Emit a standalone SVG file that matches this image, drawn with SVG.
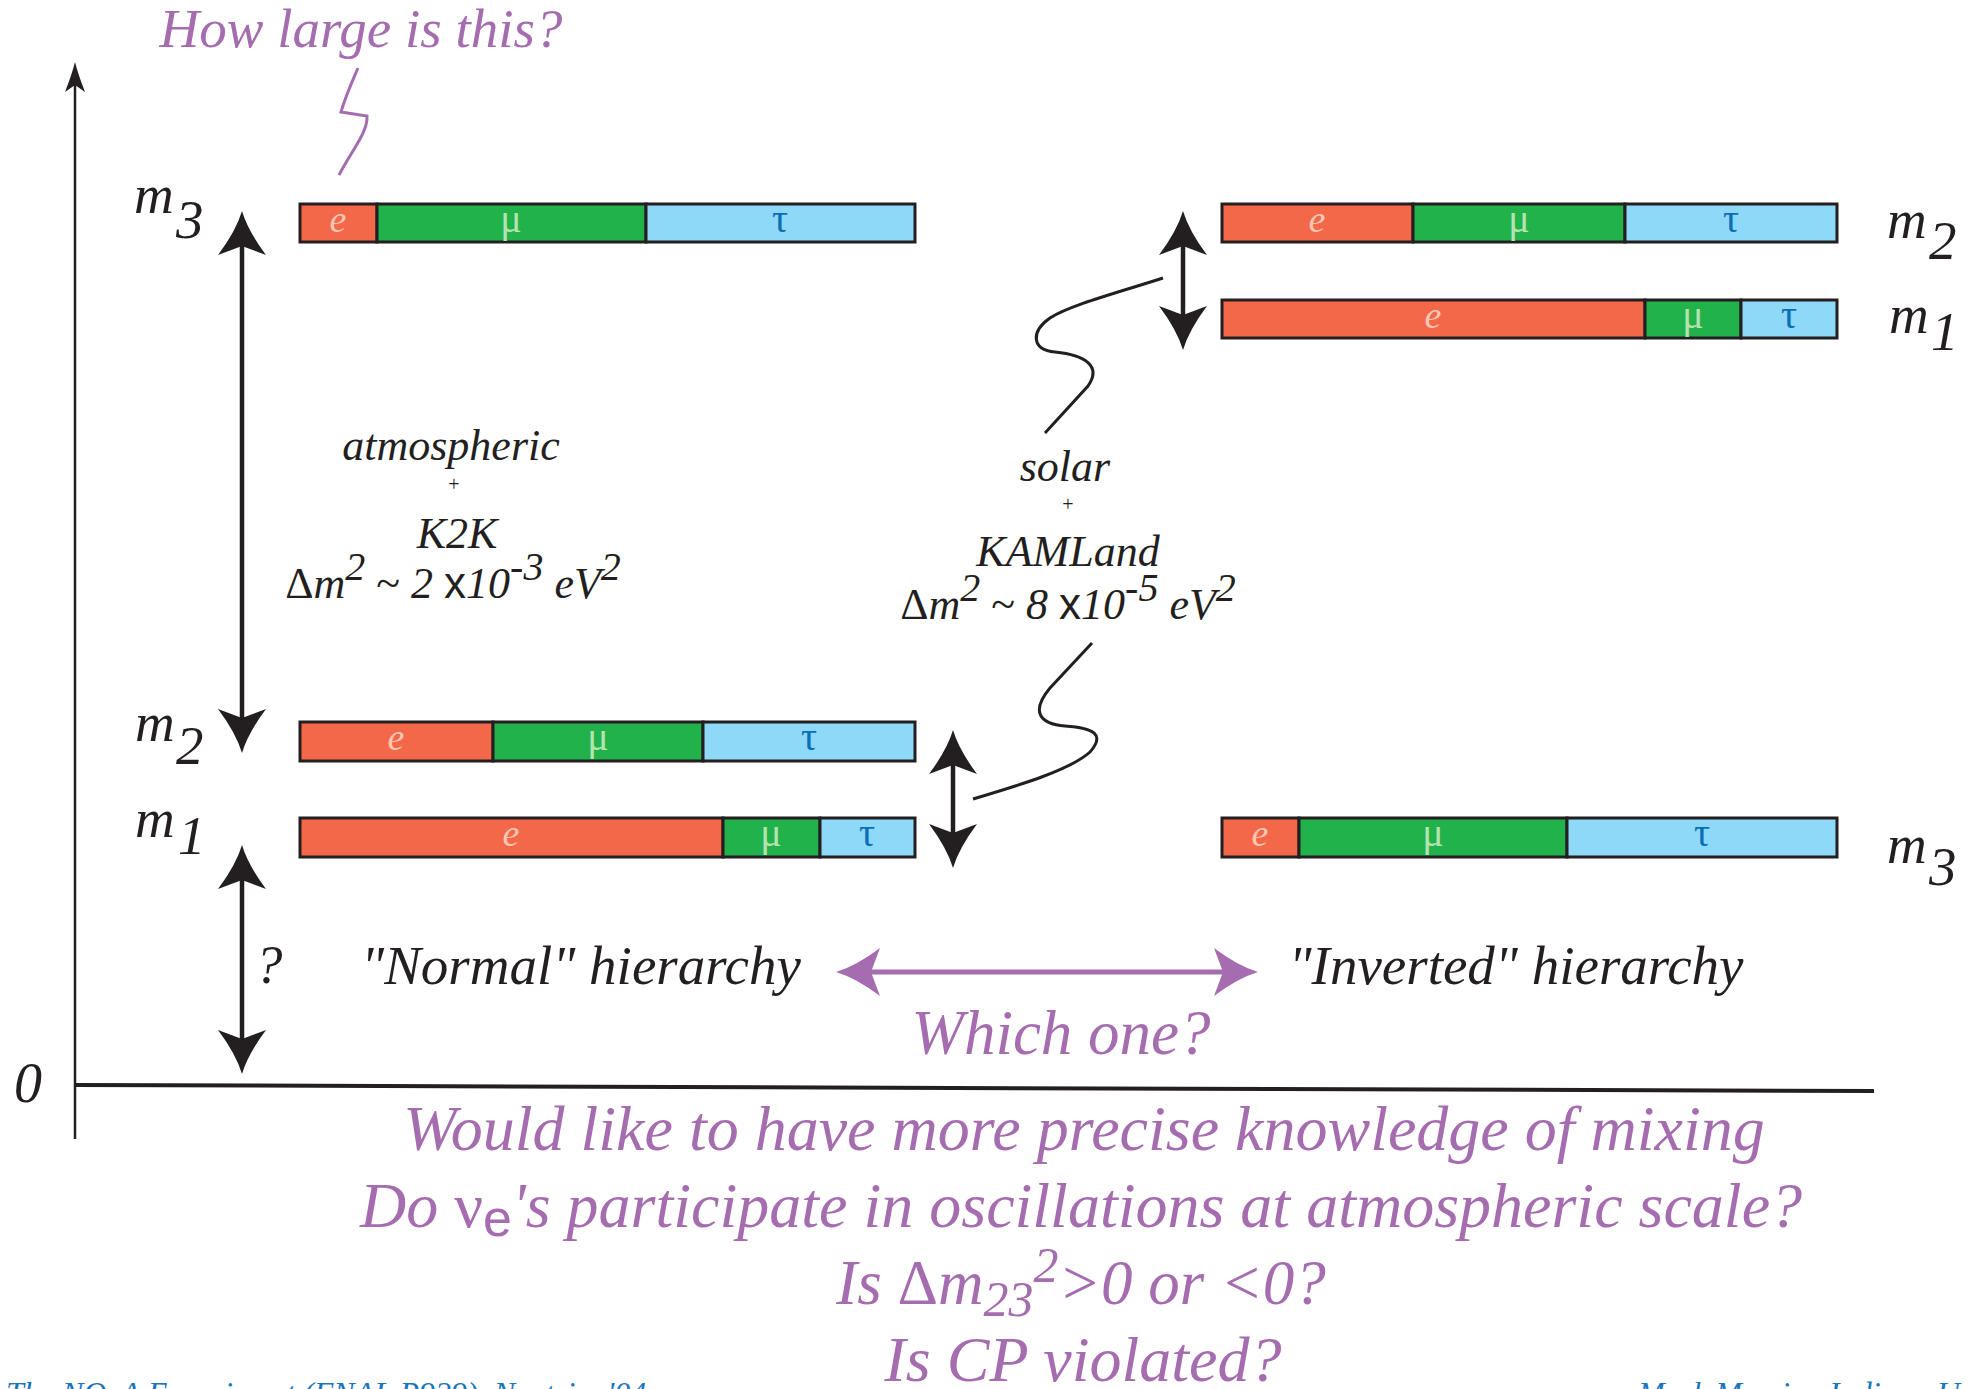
<svg xmlns="http://www.w3.org/2000/svg" width="1971" height="1389" viewBox="0 0 1971 1389">
<style>
.t{font-family:"Liberation Serif","Times New Roman",serif;font-style:italic;fill:#231f20}
.p{fill:#a56db0}
.u{font-style:normal}
.sx{font-family:"Liberation Sans",Arial,sans-serif;font-style:normal}
.lbl{font-family:"Liberation Serif",serif;font-style:italic;font-size:38px;text-anchor:middle}
.g{font-style:normal;font-size:40px}
.le{fill:#f9c6b3}.lm{fill:#b5e2ae}.lt{fill:#0b6fb8}
.se{fill:#f26849}.sm{fill:#22b24c}.st{fill:#8ed8f8}
.seg{stroke:#231f20;stroke-width:3}
.arr{stroke:#231f20;stroke-width:4.5;fill:none;marker-start:url(#ah);marker-end:url(#ah)}
.parr{stroke:#a56db0;stroke-width:5;fill:none;marker-start:url(#ahp);marker-end:url(#ahp)}
.squig{fill:none;stroke:#231f20;stroke-width:3}
.foot{font-family:"Liberation Serif",serif;font-style:italic;font-size:32px;fill:#1a75bc}
</style>
<defs>
<marker id="ah" markerUnits="userSpaceOnUse" viewBox="-46 -26 50 52" markerWidth="50" markerHeight="52" refX="-34" refY="0" orient="auto-start-reverse">
<path d="M0,0 Q-20,-6 -44,-24 L-35,0 L-44,24 Q-20,6 0,0 Z" fill="#231f20"/>
</marker>
<marker id="ahp" markerUnits="userSpaceOnUse" viewBox="-46 -26 50 52" markerWidth="50" markerHeight="52" refX="-34" refY="0" orient="auto-start-reverse">
<path d="M0,0 Q-20,-6 -44,-24 L-35,0 L-44,24 Q-20,6 0,0 Z" fill="#a56db0"/>
</marker>
<marker id="ahs" markerUnits="userSpaceOnUse" viewBox="-32 -12 34 24" markerWidth="34" markerHeight="24" refX="-22" refY="0" orient="auto">
<path d="M0,0 Q-12,-3 -30,-10 L-23,0 L-30,10 Q-12,3 0,0 Z" fill="#231f20"/>
</marker>
</defs>

<g id="axes">
<line x1="75" y1="1139" x2="75" y2="84" stroke="#231f20" stroke-width="2.5" marker-end="url(#ahs)"/>
<line x1="75" y1="1085" x2="1874" y2="1091" stroke="#231f20" stroke-width="4"/>
<text class="t" x="14" y="1102" font-size="56">0</text>
</g>

<g id="title-how-large">
<text class="t p" x="361" y="47" font-size="55" text-anchor="middle">How large is this?</text>
<path d="M339,175 C352,150 368,132 367,116 L341,112 C346,95 352,82 358,68" fill="none" stroke="#a56db0" stroke-width="3"/>
</g>

<g id="normal-m3">
<rect class="se seg" x="300" y="204" width="77" height="38"/>
<rect class="sm seg" x="377" y="204" width="269" height="38"/>
<rect class="st seg" x="646" y="204" width="269" height="38"/>
<text class="lbl le" x="338" y="232">e</text>
<text class="lbl lm g" x="511" y="232">μ</text>
<text class="lbl lt g" x="780" y="232">τ</text>
<text class="t" font-size="55" x="134" y="213">m<tspan x="176" y="238">3</tspan></text>
</g>

<g id="normal-m2">
<rect class="se seg" x="300" y="722" width="193" height="39"/>
<rect class="sm seg" x="493" y="722" width="210" height="39"/>
<rect class="st seg" x="703" y="722" width="212" height="39"/>
<text class="lbl le" x="396" y="750">e</text>
<text class="lbl lm g" x="598" y="750">μ</text>
<text class="lbl lt g" x="809" y="750">τ</text>
<text class="t" font-size="55" x="135" y="741">m<tspan x="176" y="764">2</tspan></text>
</g>

<g id="normal-m1">
<rect class="se seg" x="300" y="818" width="423" height="39"/>
<rect class="sm seg" x="723" y="818" width="97" height="39"/>
<rect class="st seg" x="820" y="818" width="95" height="39"/>
<text class="lbl le" x="511" y="846">e</text>
<text class="lbl lm g" x="771" y="846">μ</text>
<text class="lbl lt g" x="867" y="846">τ</text>
<text class="t" font-size="55" x="135" y="837">m<tspan x="178" y="854">1</tspan></text>
</g>

<g id="inverted-m2">
<rect class="se seg" x="1222" y="204" width="191" height="38"/>
<rect class="sm seg" x="1413" y="204" width="212" height="38"/>
<rect class="st seg" x="1625" y="204" width="212" height="38"/>
<text class="lbl le" x="1317" y="232">e</text>
<text class="lbl lm g" x="1519" y="232">μ</text>
<text class="lbl lt g" x="1731" y="232">τ</text>
<text class="t" font-size="55" x="1887" y="238">m<tspan x="1929" y="259">2</tspan></text>
</g>

<g id="inverted-m1">
<rect class="se seg" x="1222" y="300" width="423" height="38"/>
<rect class="sm seg" x="1645" y="300" width="96" height="38"/>
<rect class="st seg" x="1741" y="300" width="96" height="38"/>
<text class="lbl le" x="1433" y="328">e</text>
<text class="lbl lm g" x="1693" y="328">μ</text>
<text class="lbl lt g" x="1789" y="328">τ</text>
<text class="t" font-size="55" x="1889" y="333">m<tspan x="1931" y="350">1</tspan></text>
</g>

<g id="inverted-m3">
<rect class="se seg" x="1222" y="818" width="77" height="39"/>
<rect class="sm seg" x="1299" y="818" width="268" height="39"/>
<rect class="st seg" x="1567" y="818" width="270" height="39"/>
<text class="lbl le" x="1260" y="846">e</text>
<text class="lbl lm g" x="1433" y="846">μ</text>
<text class="lbl lt g" x="1702" y="846">τ</text>
<text class="t" font-size="55" x="1887" y="863">m<tspan x="1929" y="885">3</tspan></text>
</g>

<g id="atmospheric-label">
<text class="t" x="451" y="460" font-size="44" text-anchor="middle">atmospheric</text>
<text class="t u" x="454" y="491" font-size="20" text-anchor="middle">+</text>
<text class="t" x="457" y="548" font-size="44" text-anchor="middle">K2K</text>
<text class="t" x="453" y="598" font-size="44" text-anchor="middle"><tspan class="u">Δ</tspan>m<tspan dy="-18" font-size="40">2</tspan><tspan dy="18" class="u"> ~ </tspan>2 <tspan class="sx">x</tspan>10<tspan dy="-18" font-size="40">-3</tspan><tspan dy="18"> eV</tspan><tspan dy="-18" font-size="40">2</tspan></text>
</g>

<g id="solar-label">
<text class="t" x="1065" y="481" font-size="44" text-anchor="middle">solar</text>
<text class="t u" x="1068" y="511" font-size="20" text-anchor="middle">+</text>
<text class="t" x="1068" y="566" font-size="44" text-anchor="middle">KAMLand</text>
<text class="t" x="1068" y="619" font-size="44" text-anchor="middle"><tspan class="u">Δ</tspan>m<tspan dy="-18" font-size="40">2</tspan><tspan dy="18" class="u"> ~ </tspan>8 <tspan class="sx">x</tspan>10<tspan dy="-18" font-size="40">-5</tspan><tspan dy="18"> eV</tspan><tspan dy="-18" font-size="40">2</tspan></text>
</g>

<g id="hierarchy-labels">
<text class="t" x="255" y="983" font-size="55">?</text>
<text class="t" x="581" y="984" font-size="55" text-anchor="middle">"Normal" hierarchy</text>
<text class="t" x="1516" y="984" font-size="55" text-anchor="middle">"Inverted" hierarchy</text>
<text class="t p" x="1061" y="1054" font-size="63" text-anchor="middle">Which one?</text>
</g>

<g id="questions">
<text class="t p" x="1084" y="1150" font-size="64" text-anchor="middle">Would like to have more precise knowledge of mixing</text>
<text class="t p" x="1081" y="1227" font-size="64" text-anchor="middle">Do <tspan class="u">ν</tspan><tspan class="sx" dy="9" font-size="52">e</tspan><tspan dy="-9">'s participate in oscillations at atmospheric scale?</tspan></text>
<text class="t p" x="1081" y="1304" font-size="63" text-anchor="middle">Is <tspan class="u">Δ</tspan>m<tspan dy="12" font-size="50">23</tspan><tspan dy="-34" font-size="50">2</tspan><tspan dy="22">&gt;0 or &lt;0?</tspan></text>
<text class="t p" x="1083" y="1381" font-size="64" text-anchor="middle">Is CP violated?</text>
</g>

<g id="footer">
<text class="foot" x="6" y="1404">The NOνA Experiment (FNAL P929), Neutrino'04</text>
<text class="foot" x="1638" y="1404">Mark Messier, Indiana U</text>
</g>

<g id="connectors">
<line class="arr" x1="242" y1="245" x2="242" y2="719"/>
<line class="arr" x1="242" y1="879" x2="242" y2="1040"/>
<line class="arr" x1="953" y1="764" x2="953" y2="834"/>
<line class="arr" x1="1183" y1="245" x2="1183" y2="316"/>
<line class="parr" x1="870" y1="972" x2="1224" y2="972"/>
<path class="squig" d="M1163,278 C1120,292 1070,305 1050,318 C1030,332 1032,350 1055,352 C1085,355 1102,366 1088,386 L1045,433"/>
<path class="squig" d="M973,799 C1020,785 1070,770 1090,752 C1105,735 1095,728 1065,726 C1040,724 1030,712 1050,688 L1092,643"/>
</g>
</svg>
